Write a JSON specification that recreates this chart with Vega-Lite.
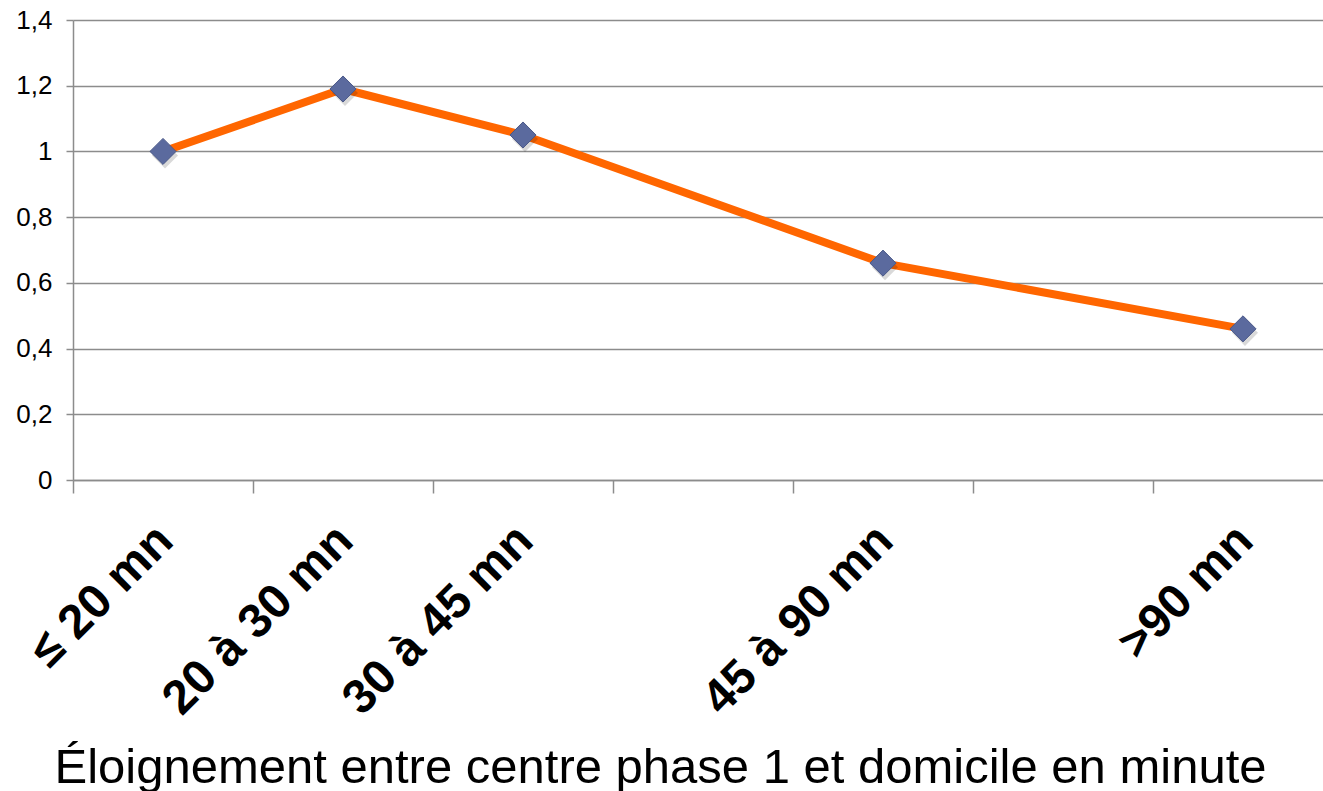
{
  "$schema": "https://vega.github.io/schema/vega-lite/v6.json",
  "width": 1250,
  "height": 460,
  "autosize": "none",
  "padding": {"left": 73, "top": 20, "right": 0, "bottom": 311},
  "background": "white",
  "data": {
    "values": [
      {"cat": "≤ 20 mn", "val": 1.0},
      {"cat": "20 à 30 mn", "val": 1.19},
      {"cat": "30 à 45 mn", "val": 1.05},
      {"cat": "45 à 90 mn", "val": 0.66},
      {"cat": ">90 mn", "val": 0.46}
    ]
  },
  "encoding": {
    "x": {
      "field": "cat",
      "type": "nominal",
      "sort": null,
      "scale": {
        "domain": ["≤ 20 mn", "20 à 30 mn", "30 à 45 mn", "e1", "45 à 90 mn", "e2", ">90 mn"],
        "range": [0, 1260],
        "paddingInner": 0,
        "paddingOuter": 0
      },
      "axis": {
        "title": "Éloignement entre centre phase 1 et domicile en minute",
        "titleFont": "Liberation Sans",
        "titleFontSize": 49,
        "titleFontWeight": "normal",
        "titleColor": "#000000",
        "titleX": 587,
        "titleY": 302,
        "titleBaseline": "alphabetic",
        "titleAlign": "center",
        "labelExpr": "datum.value == 'e1' || datum.value == 'e2' ? '' : datum.value",
        "labelFont": "Liberation Sans",
        "labelFontSize": 48,
        "labelFontWeight": "bold",
        "labelColor": "#000000",
        "labelAngle": -45,
        "labelAlign": "right",
        "labelBaseline": "top",
        "labelPadding": 23,
        "labelOffset": -15,
        "labelOverlap": false,
        "labelLimit": 0,
        "tickBand": "extent",
        "tickSize": 13,
        "tickColor": "#8c8c8c",
        "tickWidth": 1.5,
        "domainColor": "#8c8c8c",
        "domainWidth": 1.5,
        "grid": false
      }
    },
    "y": {
      "field": "val",
      "type": "quantitative",
      "scale": {"domain": [0, 1.4], "nice": false, "zero": true},
      "axis": {
        "title": null,
        "values": [0, 0.2, 0.4, 0.6, 0.8, 1, 1.2, 1.4],
        "labelExpr": "replace(format(datum.value, '~g'), '.', ',')",
        "labelFont": "Liberation Sans",
        "labelFontSize": 26,
        "labelColor": "#000000",
        "labelPadding": 14,
        "tickSize": 7,
        "tickColor": "#8c8c8c",
        "tickWidth": 1.5,
        "domainColor": "#8c8c8c",
        "domainWidth": 1.5,
        "grid": true,
        "gridColor": "#8c8c8c",
        "gridWidth": 1.5
      }
    }
  },
  "layer": [
    {
      "mark": {"type": "line", "color": "#ff6600", "strokeWidth": 8}
    },
    {
      "mark": {"type": "point", "shape": "diamond", "size": 680, "filled": true, "fill": "#000000", "opacity": 0.15, "xOffset": 2, "yOffset": 4}
    },
    {
      "mark": {"type": "point", "shape": "diamond", "size": 680, "filled": true, "fill": "#5b6a9e", "stroke": "#4a5888", "strokeWidth": 1, "opacity": 1}
    }
  ],
  "config": {"view": {"stroke": null}}
}
